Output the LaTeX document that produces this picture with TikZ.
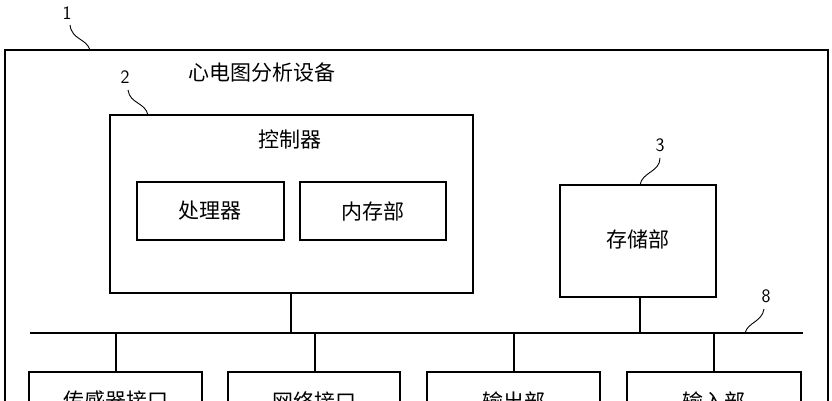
\documentclass[tikz,border=0pt]{standalone}
\usepackage{fontspec}
\newfontfamily\cjk{Noto Sans CJK SC}
\begin{document}
\begin{tikzpicture}[x=1pt,y=-1pt,line width=1.2pt,
  lbl/.style={font=\cjk\fontsize{21}{24}\selectfont},
  num/.style={font=\sffamily\fontsize{19}{22}\selectfont},
  lead/.style={line width=0.9pt}]
\useasboundingbox (0,0) rectangle (832,400);
\clip (0,0) rectangle (832,400);
\fill[white] (0,0) rectangle (832,400);
\draw (5,50) rectangle (828,430);
\node[num] (n1) at (67,13) {1};
\draw[lead] (70,25) .. controls (72,40) and (86,38) .. (90,50);
\node[lbl] (title) at (262,73) {心电图分析设备};
\draw (110,115) rectangle (473,293);
\node[num] (n2) at (125,77) {2};
\draw[lead] (128,90) .. controls (130,104) and (145,102) .. (148,115);
\node[lbl] (t2) at (290,140) {控制器};
\draw (137,182) rectangle (284,240);
\node[lbl] (p) at (210,211) {处理器};
\draw (300,182) rectangle (446,240);
\node[lbl] (m) at (373,211) {内存部};
\draw (560,185) rectangle (716,297);
\node[lbl] (s) at (638,239) {存储部};
\node[num] (n3) at (660,145) {3};
\draw[lead] (660,158) .. controls (660,172) and (642,172) .. (640,185);
\draw (30,333) -- (803,333);
\node[num] (n8) at (766,296) {8};
\draw[lead] (764,309) .. controls (762,322) and (748,322) .. (745,333);
\draw (291,293) -- (291,333);
\draw (640,297) -- (640,333);
\foreach \a/\b/\c/\t [count=\i] in {29/202/116/传感器接口,228/400/315/网络接口,427/600/514/输出部,627/801/714/输入部}{
  \draw (\c,333) -- (\c,372);
  \draw (\a,372) rectangle (\b,440);
  \node[lbl] (b\i) at ({(\a+\b)/2},401) {\t};
}
\end{tikzpicture}
\end{document}
